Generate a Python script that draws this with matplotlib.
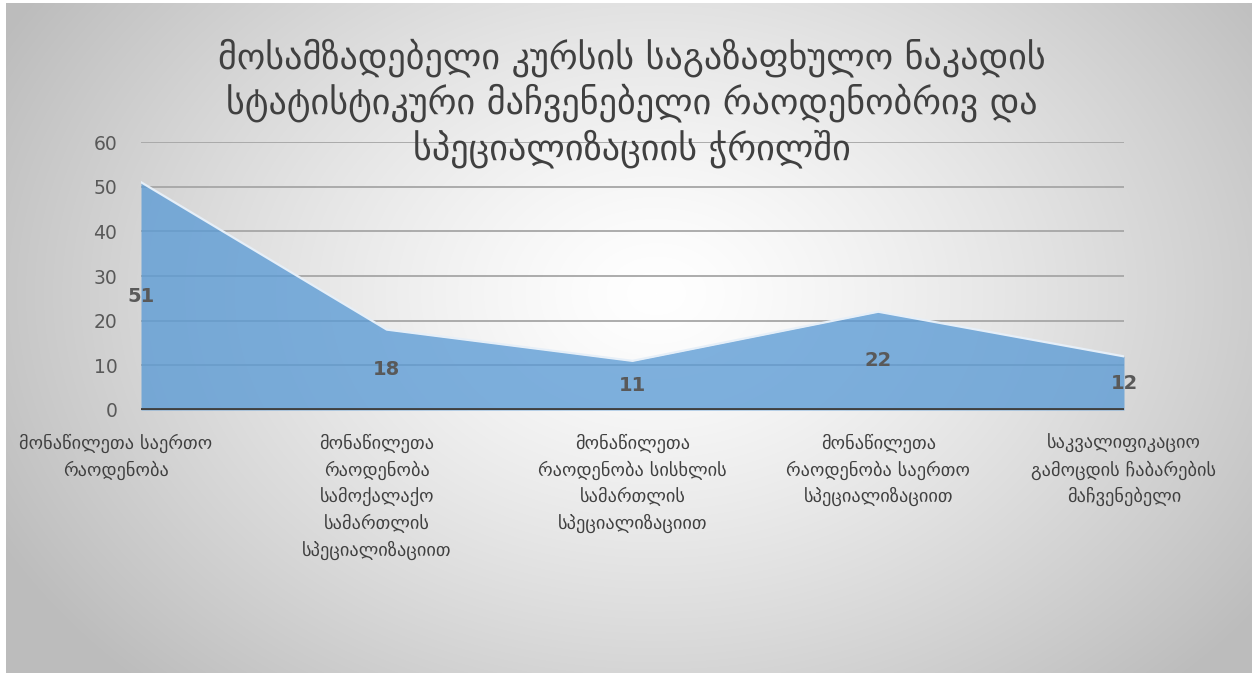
import numpy as np
import matplotlib
matplotlib.use("Agg")
import matplotlib.pyplot as plt
from matplotlib.transforms import ScaledTranslation

plt.rcParams['font.family'] = ['DejaVu Sans']

title = ("მოსამზადებელი კურსის საგაზაფხულო ნაკადის\n"
         "სტატისტიკური მაჩვენებელი რაოდენობრივ და\n"
         "სპეციალიზაციის ჭრილში")
categories = [
    "მონაწილეთა საერთო\nრაოდენობა",
    "მონაწილეთა\nრაოდენობა\nსამოქალაქო\nსამართლის\nსპეციალიზაციით",
    "მონაწილეთა\nრაოდენობა სისხლის\nსამართლის\nსპეციალიზაციით",
    "მონაწილეთა\nრაოდენობა საერთო\nსპეციალიზაციით",
    "საკვალიფიკაციო\nგამოცდის ჩაბარების\nმაჩვენებელი",
]
values = [51, 18, 11, 22, 12]
yticks = [0, 10, 20, 30, 40, 50, 60]

W, H = 1252, 673
fig = plt.figure(figsize=(W / 100, H / 100), dpi=100)
fig.patch.set_facecolor('white')

# gray background, white in the middle
bg = fig.add_axes([6 / W, 0, 1 - 6 / W, 1 - 3 / H], zorder=-5)
yy, xx = np.mgrid[0:670, 0:1246]
d = np.sqrt(((xx - 650) / 760.0) ** 2 + ((yy - 290) / 560.0) ** 2)
g = np.clip(1.0 - 0.27 * d ** 1.3, 0.74, 1.0)
bg.imshow(np.dstack([g, g, g]), aspect='auto', interpolation='bilinear')
bg.set_axis_off()

ax = fig.add_axes([141 / W, 1 - 410 / H, (1124 - 141) / W, (410 - 142) / H])
ax.patch.set_alpha(0)
x = np.arange(len(values))
ax.set_xlim(0, len(values) - 1)
ax.set_ylim(0, 60)

for t in yticks[1:]:
    ax.axhline(t, color='#a6a6a6', lw=1.3, zorder=1)
ax.fill_between(x, values, 0, color='#5b9bd5', alpha=0.78, lw=0, zorder=2)
ax.plot(x, values, color='#e6eff8', lw=1.6, zorder=3)
ax.axhline(0, color='#404040', lw=3.5, zorder=4)

for xi, v in zip(x, values):
    ax.text(xi, v / 2, str(v), ha='center', va='center', fontsize=14,
            fontweight='bold', color='#595959', zorder=5)

for s in ax.spines.values():
    s.set_visible(False)
ax.set_yticks(yticks)
ax.set_yticklabels([str(t) for t in yticks], fontsize=13.5, color='#595959')
ax.tick_params(axis='y', length=0, pad=17)
ax.set_xticks(x)
ax.set_xticklabels(categories, fontsize=13.2, color='#404040', linespacing=1.5,
                   va='top')
ax.tick_params(axis='x', length=0, pad=17)
lbls = ax.get_xticklabels()
lbls[0].set_transform(lbls[0].get_transform() + ScaledTranslation(-0.25, 0, fig.dpi_scale_trans))
lbls[1].set_transform(lbls[1].get_transform() + ScaledTranslation(-0.1, 0, fig.dpi_scale_trans))

fig.text(0.505, 1 - 38 / H, title, ha='center', va='top', fontsize=26,
         color='#404040', linespacing=1.23)

fig.savefig('out.png', dpi=100)
